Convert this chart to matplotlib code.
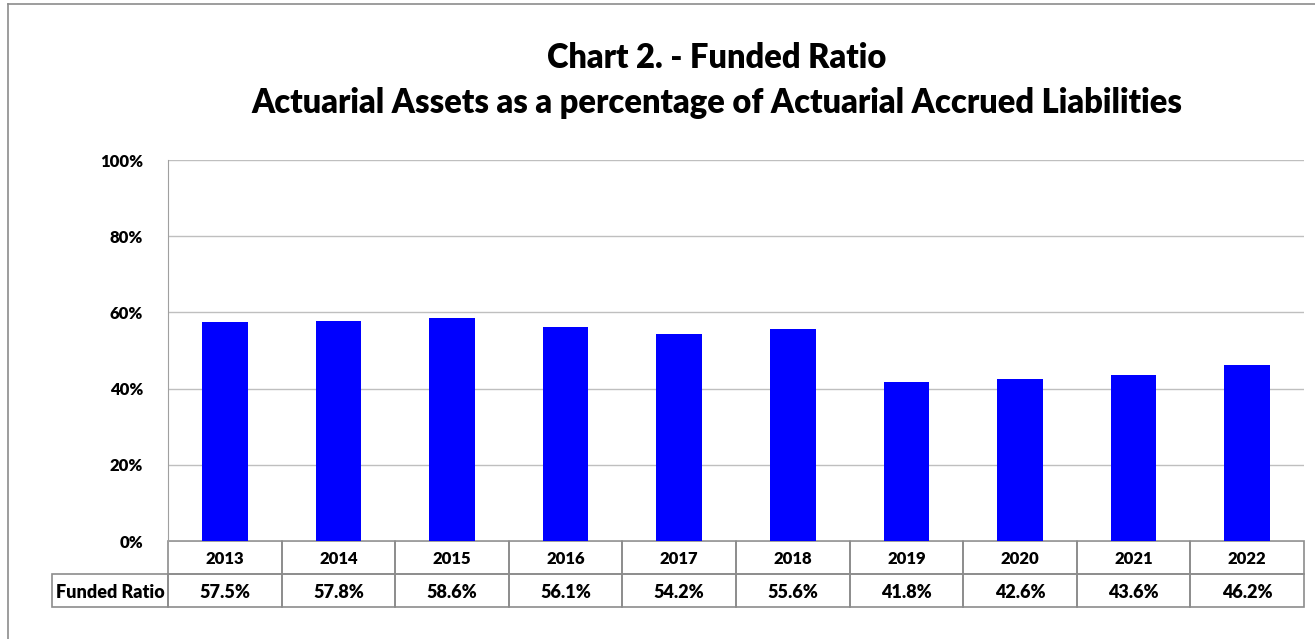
import matplotlib
matplotlib.use('Agg')
import matplotlib.pyplot as plt
from matplotlib.patches import Rectangle
from matplotlib.lines import Line2D
import matplotlib.transforms as mtransforms

years = ['2013', '2014', '2015', '2016', '2017', '2018', '2019', '2020', '2021', '2022']
funded = [57.5, 57.8, 58.6, 56.1, 54.2, 55.6, 41.8, 42.6, 43.6, 46.2]
yticks = [0, 20, 40, 60, 80, 100]
row_label = 'Funded Ratio'

plt.rcParams['font.family'] = ['Lato', 'DejaVu Sans']
WT = 'heavy'

W, H = 1315, 639
fig = plt.figure(figsize=(W / 100, H / 100), dpi=100)

# outer chart border (left + top only visible)
fig.add_artist(Line2D([7.5 / W, 7.5 / W], [0, 1 - 3.5 / H], color='#8c8c8c', lw=1.2))
fig.add_artist(Line2D([7.5 / W, 1], [1 - 3.5 / H, 1 - 3.5 / H], color='#8c8c8c', lw=1.2))

fig.text(717 / W, 1 - 58 / H, 'Chart 2. - Funded Ratio', ha='center', va='center',
         fontsize=23.5, fontweight=WT)
fig.text(717 / W, 1 - 103 / H, 'Actuarial Assets as a percentage of Actuarial Accrued Liabilities',
         ha='center', va='center', fontsize=23.5, fontweight=WT)

left, right, top, bottom = 168, 1304, 160, 541
ax = fig.add_axes([left / W, 1 - bottom / H, (right - left) / W, (bottom - top) / H])

x = list(range(len(years)))
ax.bar(x, [v / 100 for v in funded], width=0.4, color='#0000ff', zorder=3)
ax.set_xlim(-0.5, len(years) - 0.5)
ax.set_ylim(0, 1)
ax.set_yticks([t / 100 for t in yticks])
ax.set_yticklabels([f'{t}%' for t in yticks], fontsize=12, fontweight=WT)
ax.tick_params(axis='y', length=0, pad=18)
ax.set_xticks([])
ax.grid(axis='y', color='#bfbfbf', lw=1, zorder=0)
for s in ['top', 'right', 'bottom']:
    ax.spines[s].set_visible(False)
ax.spines['left'].set_color('#a0a0a0')

# data table under the axis
tr = mtransforms.blended_transform_factory(ax.transData, ax.transAxes)
rh = 33 / (bottom - top)
lc = '#8c8c8c'
for i, (yr, v) in enumerate(zip(years, funded)):
    for r in range(2):
        ax.add_patch(Rectangle((i - 0.5, -rh * (r + 1)), 1, rh, transform=tr, fill=False,
                               edgecolor=lc, lw=1.2, clip_on=False))
    ax.text(i, -rh * 0.55, yr, transform=tr, ha='center', va='center', fontsize=12, fontweight=WT)
    ax.text(i, -rh * 1.55, f'{v:.1f}%', transform=tr, ha='center', va='center', fontsize=13,
            fontweight=WT)
lw_cells = 116 / ((right - left) / len(years))
ax.add_patch(Rectangle((-0.5 - lw_cells, -rh * 2), lw_cells, rh, transform=tr, fill=False,
                       edgecolor=lc, lw=1.2, clip_on=False))
ax.text(-0.5 - lw_cells / 2, -rh * 1.55, row_label, transform=tr, ha='center', va='center',
        fontsize=13, fontweight=WT)

fig.savefig('out.png', dpi=100)
